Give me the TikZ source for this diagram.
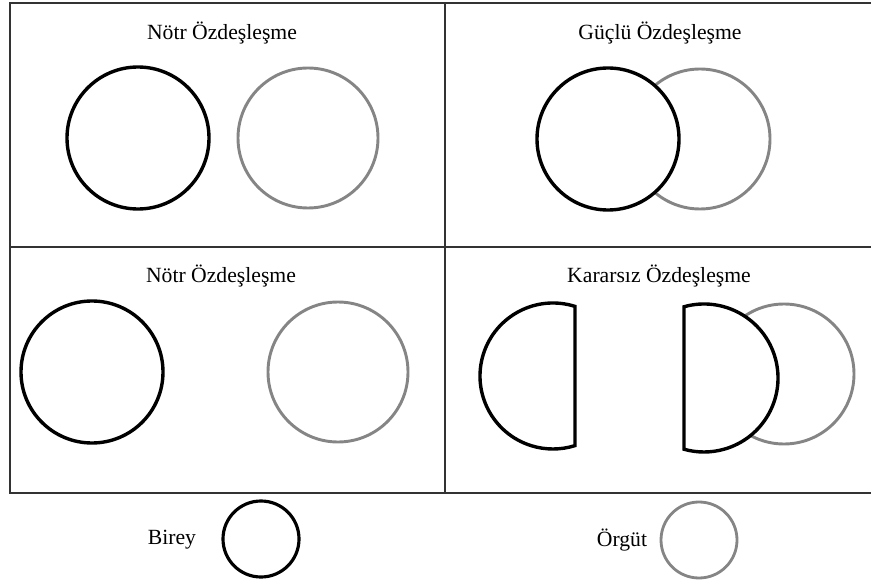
\documentclass[tikz,border=0pt]{standalone}
\usepackage{fontspec}
\setmainfont{Liberation Serif}
\usepackage{xcolor}
\usepackage{tikz}
\usetikzlibrary{calc}

\begin{document}
\begin{tikzpicture}[
  x=0.03cm, y=0.03cm,
  font=\fontsize{18.5}{20}\selectfont,
  cell/.style={line width=0.9pt, draw=black!80},
  baslik/.style={inner sep=1pt},
  birey/.style={circle, draw=black, line width=2.9pt, fill=white, minimum size=4.26cm, inner sep=0pt},
  orgut/.style={circle, draw=black!48, line width=2.5pt, minimum size=4.2cm, inner sep=0pt},
  yarim/.style={draw=black, line width=2.9pt, fill=white, line join=miter}
]
\useasboundingbox (0,0) rectangle (871,580);
\draw[cell] (871,577) -- (10,577) -- (10,87) -- (871,87);
\draw[cell] (10,333) -- (871,333);
\draw[cell] (445,577) -- (445,87);

\node[baslik] (t1) at (222,547) {Nötr Özdeşleşme};
\node[birey] (b1) at (138,442) {};
\node[orgut] (o1) at (308,442) {};

\node[baslik] (t2) at (660,547) {Güçlü Özdeşleşme};
\node[orgut] (o2) at (700,441) {};
\node[birey] (b2) at (608,441) {};

\node[baslik] (t3) at (221,304) {Nötr Özdeşleşme};
\node[birey] (b3) at (92,208) {};
\node[orgut] (o3) at (338,208) {};

\node[baslik] (t4) at (659,304) {Kararsız Özdeşleşme};
\coordinate (c4a) at (553,204);
\coordinate (c4b) at (704,202);
\draw[yarim] ($(c4a)+(72.5:73)$) arc[start angle=72.5, end angle=287.5, radius=73] -- cycle;
\node[orgut] (o4) at (784,206) {};
\draw[yarim] ($(c4b)+(105.7:74)$) arc[start angle=105.7, end angle=-105.7, radius=74] -- cycle;

\node[birey, minimum size=2.28cm, line width=2.7pt] (lb) at (261,41) {};
\node[baslik] (lbt) at (172,40) {Birey};
\node[orgut, minimum size=2.28cm, line width=2.4pt] (lo) at (699,40) {};
\node[baslik] (lot) at (622,40) {Örgüt};
\end{tikzpicture}
\end{document}
